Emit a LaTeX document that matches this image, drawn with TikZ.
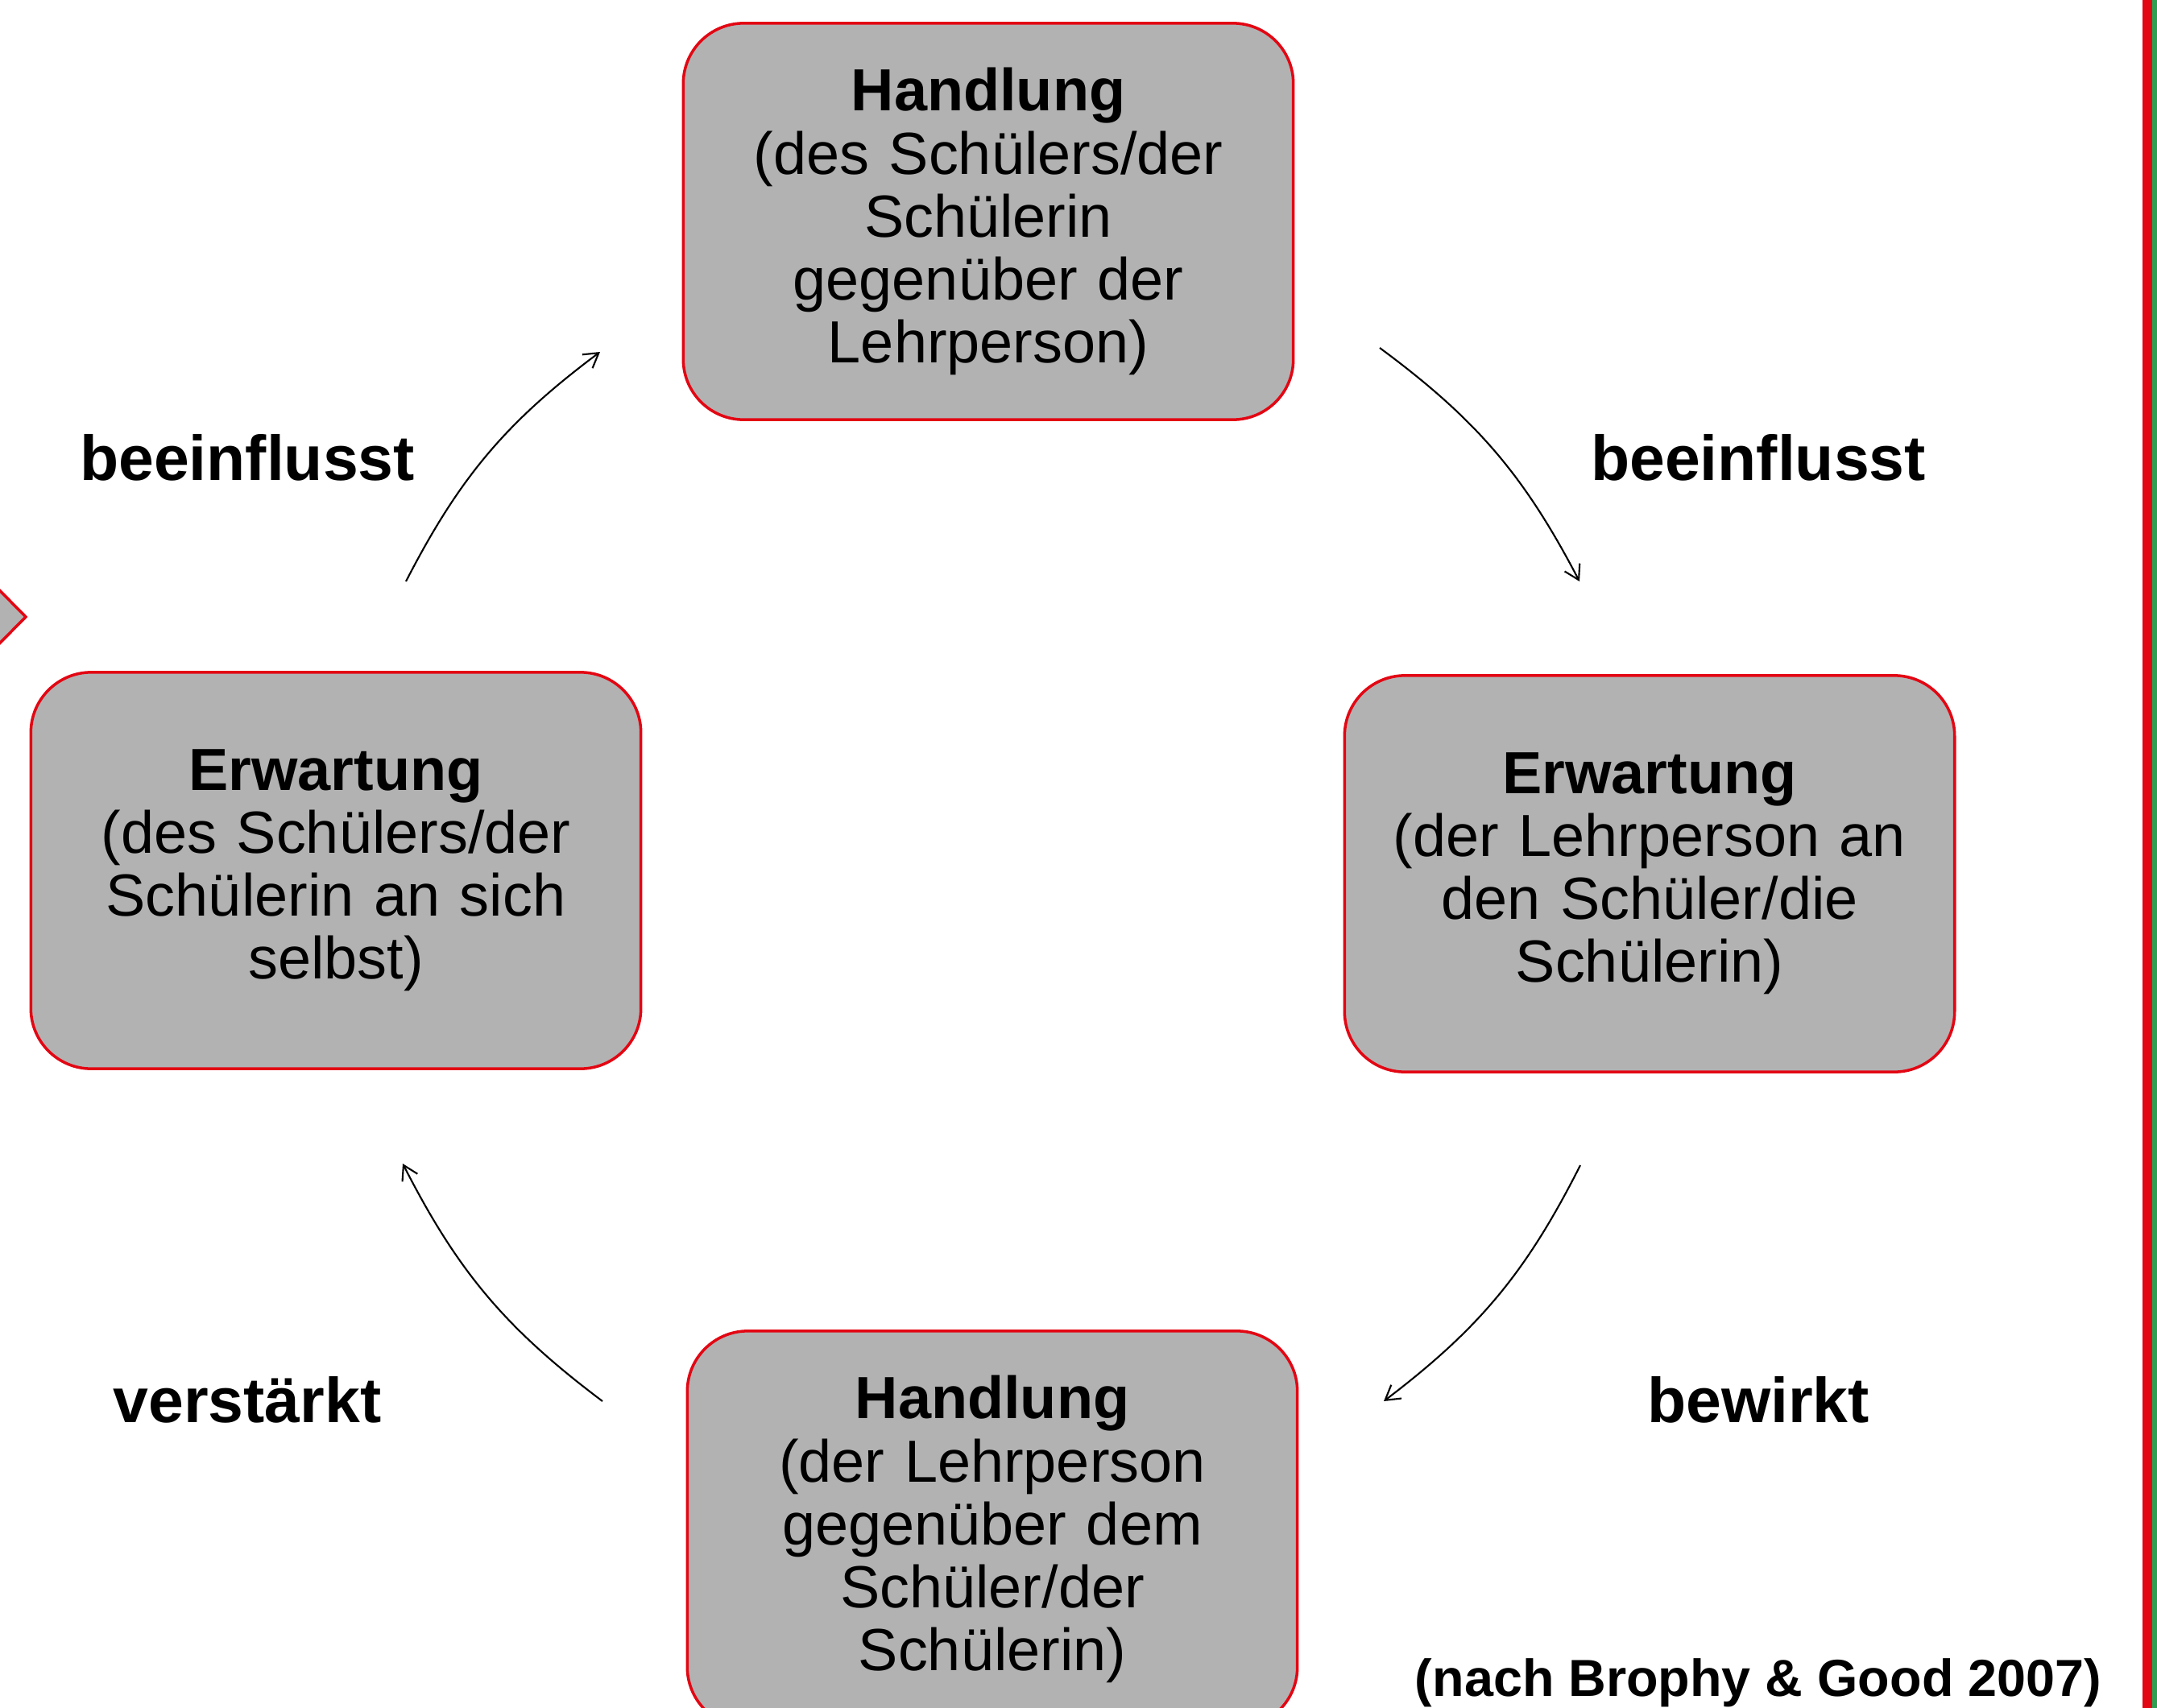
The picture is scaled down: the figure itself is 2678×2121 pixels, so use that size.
\documentclass[tikz,border=0pt]{standalone}
\usepackage{fontspec}
\setmainfont{Liberation Sans}
\usetikzlibrary{arrows.meta}
\definecolor{boxgrey}{RGB}{178,178,178}
\definecolor{boxred}{RGB}{227,6,19}
\definecolor{bargreen}{RGB}{46,158,80}
\begin{document}
\begin{tikzpicture}[x=0.01cm,y=-0.01cm,
  stagebox/.style={draw=boxred,line width=1pt,fill=boxgrey,rounded corners=0.75cm,
    minimum width=7.57cm,minimum height=4.92cm,text width=7.2cm,align=center,
    inner sep=0pt,font=\fontsize{21}{22.2}\selectfont},
  linklabel/.style={anchor=base,font=\fontsize{22.4}{26}\selectfont\bfseries},
  link/.style={line width=0.6pt,-{Straight Barb[length=5pt,width=6pt]},bend left=13}]
\useasboundingbox (0,0) rectangle (2678,2121);
\clip (0,0) rectangle (2678,2121);
\fill[white] (0,0) rectangle (2678,2121);
\draw[draw=boxred,line width=1pt,fill=boxgrey] (-40,693)--(32,766)--(-40,839);
\fill[boxred] (2660,0) rectangle (2672,2121);
\fill[bargreen] (2672,0) rectangle (2678,2121);
\node[stagebox] (hs) at (1227,275) {\textbf{Handlung}\\(des Schülers/der\\Schülerin\\gegenüber der\\Lehrperson)};
\node[stagebox] (el) at (2048,1085) {\textbf{Erwartung}\\(der Lehrperson an\\den Schüler/die\\Schülerin)};
\node[stagebox] (hl) at (1232,1899) {\textbf{Handlung}\\(der Lehrperson\\gegenüber dem\\Schüler/der\\Schülerin)};
\node[stagebox] (es) at (417,1081) {\textbf{Erwartung}\\(des Schülers/der\\Schülerin an sich\\selbst)};
\coordinate (a1) at (504,722);
\coordinate (a2) at (745,437);
\coordinate (b1) at (1713,432);
\coordinate (b2) at (1961,722);
\coordinate (c1) at (1962,1447);
\coordinate (c2) at (1718,1740);
\coordinate (d1) at (748,1740);
\coordinate (d2) at (500,1445);
\draw[link] (a1) to (a2);
\draw[link] (b1) to (b2);
\draw[link] (c1) to (c2);
\draw[link] (d1) to (d2);
\node[linklabel] (l1) at (307,596) {beeinflusst};
\node[linklabel] (l2) at (2183,596) {beeinflusst};
\node[linklabel] (l3) at (307,1766) {verstärkt};
\node[linklabel] (l4) at (2183,1766) {bewirkt};
\node[linklabel,font=\fontsize{18.4}{22}\selectfont\bfseries] (src) at (2183,2106) {(nach Brophy \& Good 2007)};
\end{tikzpicture}
\end{document}
